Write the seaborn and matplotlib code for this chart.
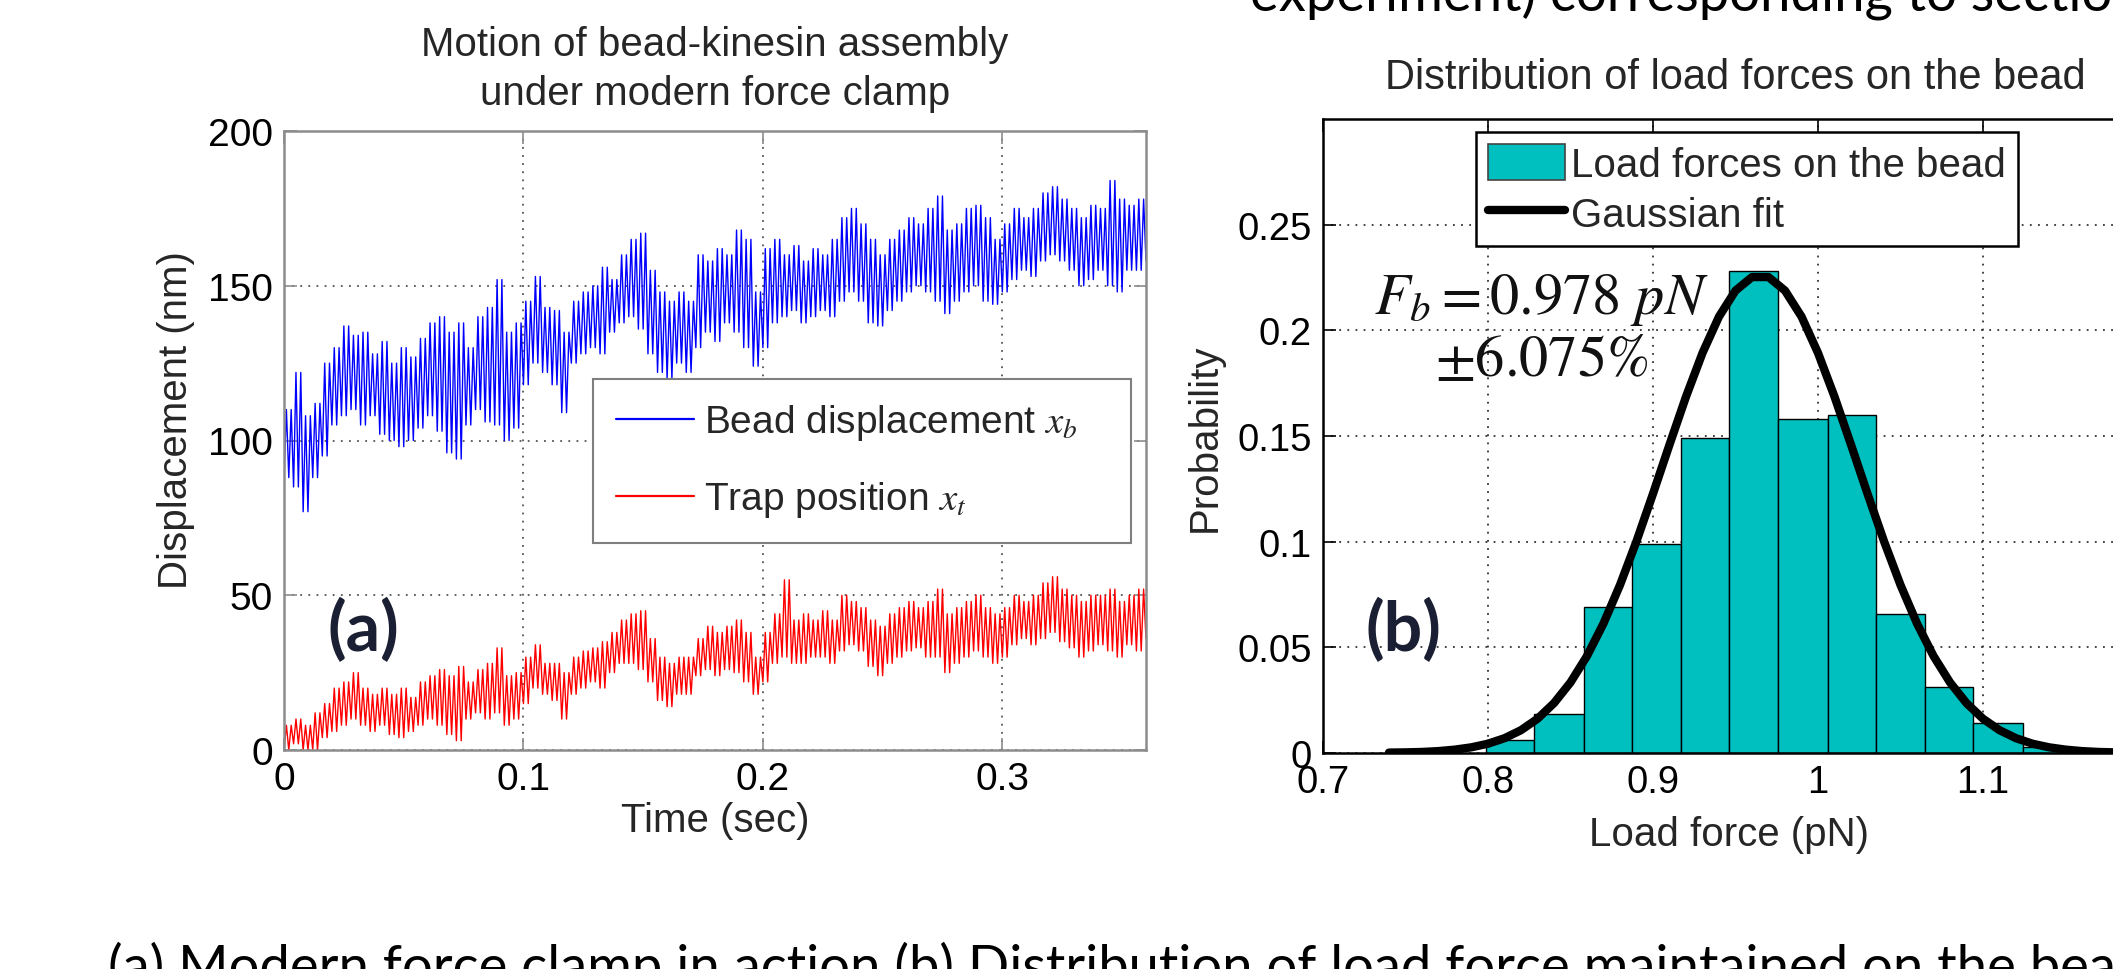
import numpy as np
import matplotlib
matplotlib.use('Agg')
import matplotlib.pyplot as plt
import seaborn as sns
from matplotlib.lines import Line2D
from matplotlib.patches import Patch

# ---- (a) force clamp traces -----------------------------------------------
# lower / upper excursion of each trace inside consecutive 4 ms windows (nm)
SAMPLE_DT = 0.004
BEAD_LO = [88, 85, 77, 88, 95, 105, 108, 110, 105, 108,
           102, 100, 98, 100, 104, 108, 103, 96, 94, 105,
           110, 106, 105, 100, 104, 118, 125, 122, 118, 109,
           125, 128, 130, 128, 135, 138, 140, 136, 128, 122,
           120, 125, 122, 130, 135, 132, 138, 135, 130, 124,
           130, 138, 140, 142, 138, 140, 142, 140, 145, 148,
           145, 138, 137, 142, 145, 148, 150, 148, 145, 141,
           145, 148, 150, 145, 144, 148, 152, 155, 153, 158,
           160, 158, 155, 150, 152, 155, 150, 148, 155, 155,
           158]
BEAD_HI = [110, 122, 108, 112, 125, 130, 137, 134, 135, 128,
           132, 125, 130, 127, 133, 138, 140, 135, 138, 130,
           140, 143, 152, 135, 138, 145, 153, 143, 142, 135,
           145, 148, 150, 156, 152, 160, 165, 167, 155, 148,
           145, 148, 145, 160, 158, 162, 160, 168, 165, 148,
           162, 165, 160, 163, 158, 162, 160, 165, 172, 175,
           170, 165, 160, 165, 168, 172, 170, 175, 179, 168,
           170, 175, 176, 172, 165, 170, 175, 172, 175, 180,
           182, 178, 175, 172, 176, 175, 184, 178, 176, 178,
           175]
TRAP_LO = [0, 2, 0, 0, 4, 6, 8, 10, 8, 6,
           8, 5, 4, 6, 8, 10, 8, 5, 3, 10,
           12, 10, 12, 8, 10, 15, 20, 18, 16, 10,
           18, 20, 22, 20, 25, 28, 28, 26, 22, 16,
           14, 18, 18, 24, 26, 24, 26, 25, 22, 18,
           22, 28, 30, 28, 28, 30, 30, 28, 32, 34,
           32, 27, 24, 28, 30, 32, 33, 30, 30, 25,
           28, 30, 32, 30, 28, 30, 34, 36, 34, 36,
           38, 35, 33, 30, 32, 34, 32, 30, 34, 32,
           36]
TRAP_HI = [8, 10, 8, 12, 15, 20, 22, 25, 20, 18,
           20, 18, 20, 17, 22, 24, 26, 24, 27, 22,
           26, 28, 33, 24, 25, 30, 34, 28, 28, 25,
           30, 32, 33, 35, 38, 42, 44, 45, 36, 30,
           28, 30, 30, 36, 40, 38, 40, 42, 38, 30,
           38, 44, 55, 42, 44, 42, 45, 42, 50, 48,
           46, 42, 40, 44, 46, 48, 46, 48, 52, 44,
           46, 48, 50, 46, 44, 46, 50, 48, 50, 54,
           56, 52, 50, 48, 50, 50, 52, 48, 50, 52,
           54]
TIME_TICKS = [0, 0.1, 0.2, 0.3]
TIME_TICKLABELS = ['0', '0.1', '0.2', '0.3']
DISP_TICKS = [0, 50, 100, 150, 200]
DISP_TICKLABELS = ['0', '50', '100', '150', '200']

# ---- (b) load force distribution ------------------------------------------
BIN_EDGES = [0.799, 0.828, 0.858, 0.887, 0.917, 0.946, 0.976,
             1.006, 1.035, 1.065, 1.094, 1.124, 1.153]
BIN_PROB = [0.006, 0.0185, 0.069, 0.099, 0.149, 0.228,
            0.158, 0.160, 0.066, 0.031, 0.014, 0.003]
FIT_FORCE = [0.74, 0.75, 0.76, 0.77, 0.78, 0.79, 0.80, 0.81, 0.82, 0.83,
             0.84, 0.85, 0.86, 0.87, 0.88, 0.89, 0.90, 0.91, 0.92, 0.93,
             0.94, 0.95, 0.96, 0.97, 0.98, 0.99, 1.00, 1.01, 1.02, 1.03,
             1.04, 1.05, 1.06, 1.07, 1.08, 1.09, 1.10, 1.11, 1.12, 1.13,
             1.14, 1.15, 1.16, 1.17, 1.18, 1.19, 1.20]
FIT_PROB = [0.0002, 0.0003, 0.0005, 0.0009, 0.0016, 0.0027, 0.0044, 0.0070,
            0.0108, 0.0162, 0.0236, 0.0334, 0.0459, 0.0613, 0.0795, 0.1002,
            0.1227, 0.1459, 0.1686, 0.1893, 0.2065, 0.2188, 0.2252, 0.2252,
            0.2188, 0.2065, 0.1893, 0.1686, 0.1459, 0.1227, 0.1002, 0.0795,
            0.0613, 0.0459, 0.0334, 0.0236, 0.0162, 0.0108, 0.0070, 0.0044,
            0.0027, 0.0016, 0.0009, 0.0005, 0.0003, 0.0002, 0.0001]
FORCE_TICKS = [0.7, 0.8, 0.9, 1.0, 1.1, 1.2]
FORCE_TICKLABELS = ['0.7', '0.8', '0.9', '1', '1.1', '1.2']
PROB_TICKS = [0, 0.05, 0.1, 0.15, 0.2, 0.25]
PROB_TICKLABELS = ['0', '0.05', '0.1', '0.15', '0.2', '0.25']

TEAL = '#00BFBF'
PANEL_LABEL_COLOR = '#1b1f33'
SLIDE_FONT = ['Lato', 'DejaVu Sans']

W, H = 2113, 970

sns.set_theme(style='white')
plt.rcParams['font.family'] = ['Liberation Sans', 'DejaVu Sans']
plt.rcParams['mathtext.fontset'] = 'stix'


def zigzag(lo, hi, swings=2):
    """Swing between the low and high excursion of every window."""
    lo = np.asarray(lo, float)
    hi = np.asarray(hi, float)
    n = len(lo)
    step = SAMPLE_DT / (2 * swings)
    t = np.arange(n * 2 * swings) * step
    ys = np.tile(np.column_stack([lo, hi]), (1, swings)).ravel()
    return t, ys


def style_matlab_axes(ax, spine_color, grid_color, labelsize):
    for s in ax.spines.values():
        s.set_visible(True)
        s.set_color(spine_color)
        s.set_linewidth(1.8)
    ax.tick_params(direction='in', length=9, width=1.2, color=spine_color,
                   top=True, right=True, bottom=True, left=True,
                   labelsize=labelsize, labelcolor='black', pad=8)
    ax.grid(True, linestyle=(0, (1, 3.5)), color=grid_color, linewidth=1.3)
    ax.set_axisbelow(True)


fig = plt.figure(figsize=(W / 100, H / 100), dpi=100)
fig.patch.set_facecolor('white')

# ---------------- panel (a) ----------------
ax_a = fig.add_axes([284 / W, 1 - 751 / H, (1146 - 284) / W, (751 - 132) / H])
style_matlab_axes(ax_a, '#8c8c8c', '#555555', 28)

bx, by = zigzag(BEAD_LO, BEAD_HI)
tx, ty = zigzag(TRAP_LO, TRAP_HI)
sns.lineplot(x=bx, y=by, ax=ax_a, color='#0000FF', linewidth=1.0,
             estimator=None, sort=False)
sns.lineplot(x=tx, y=ty, ax=ax_a, color='#FF0000', linewidth=1.0,
             estimator=None, sort=False)

ax_a.set_xlim(0, 0.36)
ax_a.set_ylim(0, 200)
ax_a.set_xticks(TIME_TICKS)
ax_a.set_xticklabels(TIME_TICKLABELS)
ax_a.set_yticks(DISP_TICKS)
ax_a.set_yticklabels(DISP_TICKLABELS)
ax_a.set_xlabel('Time (sec)', fontsize=29)
ax_a.set_ylabel('Displacement (nm)', fontsize=29)
ax_a.xaxis.set_label_coords(0.5, -0.082)
ax_a.yaxis.set_label_coords(-0.103, 0.535)
ax_a.set_title('Motion of bead-kinesin assembly\nunder modern force clamp',
               fontsize=29, y=1.101, va='center', linespacing=1.35, pad=0)

leg_a_h = 153 / 619
leg_a = ax_a.legend(
    handles=[Line2D([], [], color='#0000FF', lw=1.6),
             Line2D([], [], color='#FF0000', lw=1.6)],
    labels=['Bead displacement $x_b$', 'Trap position $x_t$'],
    loc='upper left',
    bbox_to_anchor=((593 - 284) / 862, (751 - 380) / 619 - leg_a_h,
                    538 / 862, leg_a_h),
    mode='expand', borderaxespad=0, fontsize=28, frameon=True,
    fancybox=False, edgecolor='#7f7f7f', framealpha=1, handlelength=2.0,
    handletextpad=0.25, borderpad=0.6, labelspacing=0.95)
leg_a.get_frame().set_linewidth(1.5)

ax_a.text(0.051, 0.195, '(a)', transform=ax_a.transAxes, fontsize=49,
          fontweight='bold', family=SLIDE_FONT,
          color=PANEL_LABEL_COLOR, ha='left', va='center')

# ---------------- panel (b) ----------------
ax_b = fig.add_axes([1323 / W, 1 - 754 / H, 825 / W, 634 / H])
style_matlab_axes(ax_b, 'black', '#333333', 27.5)

centers = [(a + b) / 2 for a, b in zip(BIN_EDGES[:-1], BIN_EDGES[1:])]
sns.histplot(x=centers, weights=BIN_PROB, bins=BIN_EDGES, stat='count',
             color=TEAL, edgecolor='black', linewidth=1.0, alpha=1,
             ax=ax_b)
sns.lineplot(x=FIT_FORCE, y=FIT_PROB, ax=ax_b, color='black', linewidth=6,
             estimator=None, sort=False, solid_capstyle='round')

ax_b.set_xlim(0.7, 1.2)
ax_b.set_ylim(0, 0.3)
ax_b.set_xticks(FORCE_TICKS)
ax_b.set_xticklabels(FORCE_TICKLABELS)
ax_b.set_yticks(PROB_TICKS)
ax_b.set_yticklabels(PROB_TICKLABELS)
ax_b.set_xlabel('Load force (pN)', fontsize=29)
ax_b.set_ylabel('Probability', fontsize=29)
ax_b.xaxis.set_label_coords(0.492, -0.098)
ax_b.yaxis.set_label_coords(-0.12, 0.498)
ax_b.set_title('Distribution of load forces on the bead', fontsize=30,
               y=1.067, va='center', pad=0)

leg_b = ax_b.legend(
    handles=[Patch(facecolor=TEAL, edgecolor='#444444', linewidth=1.2),
             Line2D([], [], color='black', lw=6)],
    labels=['Load forces on the bead', 'Gaussian fit'],
    loc='upper left', bbox_to_anchor=((1476 - 1323) / 825, (754 - 133) / 634),
    borderaxespad=0, fontsize=29, frameon=True, fancybox=False,
    edgecolor='black', framealpha=1, handlelength=1.9, handleheight=1.0,
    handletextpad=0.15, borderpad=0.3, labelspacing=0.25)
leg_b.get_frame().set_linewidth(1.8)

ax_b.text(0.731, 0.208, r'$F_b = 0.978\ pN$', fontsize=42, color='#111111',
          ha='left', va='baseline')
ax_b.text(0.768, 0.179, r'$\pm6.075\%$', fontsize=42, color='#111111',
          ha='left', va='baseline')
ax_b.text(0.052, 0.195, '(b)', transform=ax_b.transAxes, fontsize=49,
          fontweight='bold', family=SLIDE_FONT,
          color=PANEL_LABEL_COLOR, ha='left', va='center')

# ---------------- slide text cut by the screenshot ----------------
fig.text(1250 / W, 1 - 10 / H, 'experiment) corresponding to section',
         fontsize=39.2, family=SLIDE_FONT, color='black',
         ha='left', va='baseline')
fig.text(108 / W, 1 - 984 / H,
         '(a) Modern force clamp in action (b) Distribution of load force '
         'maintained on the bead',
         fontsize=39.2, family=SLIDE_FONT, color='black',
         ha='left', va='baseline')

fig.savefig('out.png', dpi=100)
